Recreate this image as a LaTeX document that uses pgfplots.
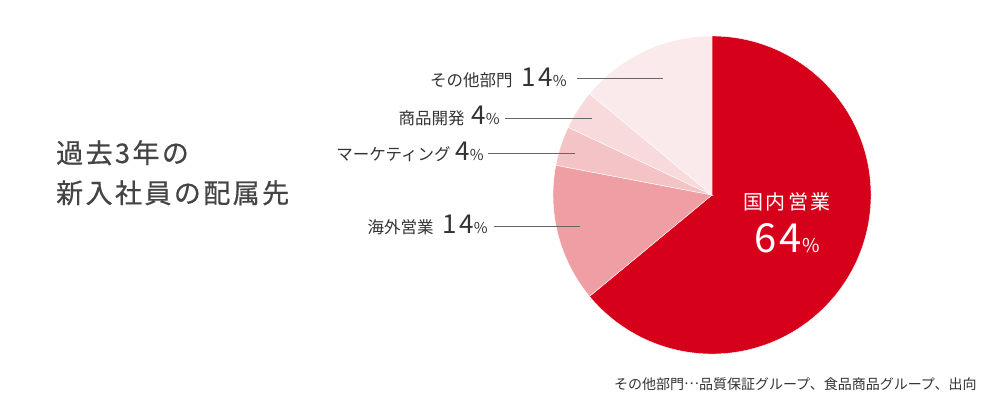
\documentclass[border=0pt]{standalone}
\usepackage{fontspec}
\setmainfont{Noto Sans CJK JP}
\usepackage{pgfplots}
\pgfplotsset{compat=1.18}
\usepackage{pgfplotstable}
\definecolor{sred}{HTML}{D7001A}
\definecolor{soverseas}{HTML}{EF9FA4}
\definecolor{smarket}{HTML}{F4C3C6}
\definecolor{sproduct}{HTML}{F8DADC}
\definecolor{sother}{HTML}{FBEAEC}
\definecolor{txt}{HTML}{333333}
\definecolor{ttl}{HTML}{444444}
\definecolor{leader}{HTML}{666666}
\pgfplotstableread{
name pct
domestic 64
overseas 14
marketing 4
product 4
other 14
}\piedata
\newcommand{\lab}[1]{{\fontsize{16.5}{19}\selectfont #1}}
\newcommand{\num}[1]{{\fontsize{26}{30}\selectfont\addfontfeature{LetterSpace=10}#1}}
\newcommand{\pct}{{\fontsize{15}{17}\selectfont\%}}
\begin{document}
\begin{tikzpicture}
\begin{axis}[width=998pt,height=412pt,scale only axis,
  xmin=0,xmax=998,ymin=0,ymax=412,y dir=reverse,hide axis,clip=false]
\path (axis cs:0,0) rectangle (axis cs:998,412);
\pgfplotstablegetelem{0}{pct}\of\piedata \let\pa\pgfplotsretval
\pgfplotstablegetelem{1}{pct}\of\piedata \let\pb\pgfplotsretval
\pgfplotstablegetelem{2}{pct}\of\piedata \let\pc\pgfplotsretval
\pgfplotstablegetelem{3}{pct}\of\piedata \let\pd\pgfplotsretval
\pgfplotstablegetelem{4}{pct}\of\piedata \let\pe\pgfplotsretval
\pgfmathsetmacro\aa{90}
\pgfmathsetmacro\ab{\aa-3.6*\pa}
\pgfmathsetmacro\ac{\ab-3.6*\pb}
\pgfmathsetmacro\ad{\ac-3.6*\pc}
\pgfmathsetmacro\ae{\ad-3.6*\pd}
\pgfmathsetmacro\af{\ae-3.6*\pe}
\fill[sred,draw=white,line width=0.4pt] (axis cs:712,195) -- ++(\aa:159pt) arc[start angle=\aa,end angle=\ab,radius=159pt] -- cycle;
\fill[soverseas,draw=white,line width=0.4pt] (axis cs:712,195) -- ++(\ab:159pt) arc[start angle=\ab,end angle=\ac,radius=159pt] -- cycle;
\fill[smarket,draw=white,line width=0.4pt] (axis cs:712,195) -- ++(\ac:159pt) arc[start angle=\ac,end angle=\ad,radius=159pt] -- cycle;
\fill[sproduct,draw=white,line width=0.4pt] (axis cs:712,195) -- ++(\ad:159pt) arc[start angle=\ad,end angle=\ae,radius=159pt] -- cycle;
\fill[sother,draw=white,line width=0.4pt] (axis cs:712,195) -- ++(\ae:159pt) arc[start angle=\ae,end angle=\af,radius=159pt] -- cycle;
% leader lines
\draw[leader,line width=1pt] (axis cs:577,78.5) -- (axis cs:663,78.5);
\draw[leader,line width=1pt] (axis cs:505,118) -- (axis cs:592,118);
\draw[leader,line width=1pt] (axis cs:488,153.5) -- (axis cs:575,153.5);
\draw[leader,line width=1pt] (axis cs:494,226) -- (axis cs:580,226);
% labels
\node[anchor=base east,inner sep=0pt,txt] at (axis cs:567,86) {\lab{その他部門}\hspace{9pt}\num{14}\pct};
\node[anchor=base east,inner sep=0pt,txt] at (axis cs:500,124) {\lab{商品開発}\hspace{7pt}\num{4}\pct};
\node[anchor=base east,inner sep=0pt,txt] at (axis cs:484,160.5) {\lab{マーケティング}\hspace{5pt}\num{4}\pct};
\node[anchor=base east,inner sep=0pt,txt] at (axis cs:488,233.5) {\lab{海外営業}\hspace{9pt}\num{14}\pct};
% inner label
\node[anchor=base,inner sep=0pt,white] at (axis cs:787,209) {\fontsize{20}{24}\selectfont\addfontfeature{LetterSpace=13}国内営業};
\node[anchor=base,inner sep=0pt,white] at (axis cs:787,252) {{\fontsize{40}{44}\selectfont\addfontfeature{LetterSpace=8}64}{\fontsize{19}{21}\selectfont\%}};
% title
\node[anchor=base west,inner sep=0pt,ttl] at (axis cs:56,163) {\fontsize{27}{30}\selectfont\addfontfeature{LetterSpace=9,FakeBold=0.6}過去3年の};
\node[anchor=base west,inner sep=0pt,ttl] at (axis cs:56,203) {\fontsize{27}{30}\selectfont\addfontfeature{LetterSpace=9,FakeBold=0.6}新入社員の配属先};
% footnote
\node[anchor=base west,inner sep=0pt,txt] at (axis cs:614,389) {\fontsize{14}{16}\selectfont その他部門\raisebox{0.32em}{…}品質保証グループ、食品商品グループ、出向};
\end{axis}
\end{tikzpicture}
\end{document}
